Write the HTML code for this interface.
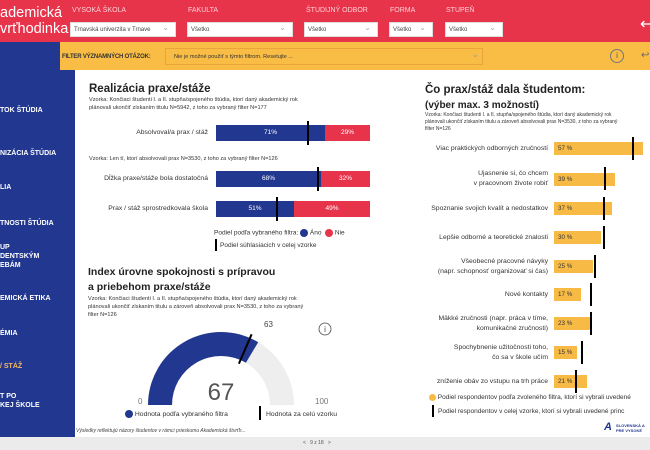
<!DOCTYPE html>
<html><head><meta charset="utf-8"><style>
*{margin:0;padding:0;box-sizing:border-box}
body{width:650px;height:450px;overflow:hidden;font-family:"Liberation Sans",sans-serif;background:#fff;position:relative}
.a{position:absolute;white-space:nowrap}
.top{left:0;top:0;width:650px;height:42px;background:#e8344b}
.sel{background:#fff;height:15px;top:22px;font-size:6px;color:#444;padding:4px 3px;border:1px solid #ddd}
.sel:after{content:"⌄";position:absolute;right:6px;top:0px;color:#aaa;font-size:8px}
.lab{top:7px;font-size:7px;color:#fbd0d6}
.nav{color:#fff;font-size:7px;font-weight:bold;left:0;line-height:9px}
.sm{font-size:5.6px;color:#333;line-height:8px}
.rl{font-size:6.8px;color:#333;text-align:right;line-height:10px}
.bar{height:13px;background:#f7bb45;font-size:6.3px;color:#333;padding:3px 4px}
.mk{width:2px;background:#000}
</style></head><body>
<div class="a top"></div>
<div class="a" style="left:0;top:5px;color:#fff;font-size:14.5px;line-height:16px">ademická<br>vrťhodinka</div>
<div class="a lab" style="left:72px">VYSOKÁ ŠKOLA</div>
<div class="a sel" style="left:70px;width:106px">Trnavská univerzita v Trnave</div>
<div class="a lab" style="left:188px">FAKULTA</div>
<div class="a sel" style="left:187px;width:106px">Všetko</div>
<div class="a lab" style="left:306px">ŠTUDIJNÝ ODBOR</div>
<div class="a sel" style="left:304px;width:74px">Všetko</div>
<div class="a lab" style="left:390px">FORMA</div>
<div class="a sel" style="left:389px;width:44px">Všetko</div>
<div class="a lab" style="left:446px">STUPEŇ</div>
<div class="a sel" style="left:445px;width:58px">Všetko</div>
<div class="a" style="left:640px;top:14px;color:#fff;font-size:16px">↩</div>
<div class="a" style="left:0;top:42px;width:60px;height:395px;background:#22378f"></div>
<div class="a" style="left:60px;top:42px;width:590px;height:28px;background:#f9bd45"></div>
<div class="a" style="left:60px;top:70px;width:15px;height:367px;background:#22378f"></div>
<div class="a" style="left:62px;top:54px;font-size:6px;font-weight:bold;color:#333;letter-spacing:-0.2px">FILTER VÝZNAMNÝCH OTÁZOK:</div>
<div class="a" style="left:165px;top:48px;width:318px;height:17px;border:1px solid #e9a53a;font-size:5.6px;padding:5px 8px;color:#333">Nie je možné použiť s týmto filtrom. Resetujte ...</div>
<div class="a" style="left:472px;top:50px;color:#999;font-size:8px">⌄</div>
<div class="a" style="left:610px;top:49px;width:14px;height:14px;border:1px solid #777;border-radius:50%;font-size:8px;text-align:center;color:#555;line-height:12px">i</div>
<div class="a" style="left:641px;top:50px;font-size:10px;color:#666">↩</div>
<div class="a nav" style="top:106px">TOK ŠTÚDIA</div>
<div class="a nav" style="top:149px">NIZÁCIA ŠTÚDIA</div>
<div class="a nav" style="top:183px">LIA</div>
<div class="a nav" style="top:219px">TNOSTI ŠTÚDIA</div>
<div class="a nav" style="top:243px">UP<br>DENTSKÝM<br>EBÁM</div>
<div class="a nav" style="top:294px">EMICKÁ ETIKA</div>
<div class="a nav" style="top:329px">ÉMIA</div>
<div class="a nav" style="top:362px;color:#f5b960">/ STÁŽ</div>
<div class="a nav" style="top:392px">T PO<br>KEJ ŠKOLE</div>
<div class="a" style="left:0;top:437px;width:650px;height:13px;background:#ebebeb"></div>
<div class="a" style="left:303px;top:440px;font-size:5px;color:#555">&lt; &nbsp; 9 z 18 &nbsp; &gt;</div>
<div class="a" style="left:76px;top:428px;font-size:5px;color:#444;font-style:italic">Výsledky reflektujú názory študentov v rámci prieskumu Akademická štvrťh...</div>

<div class="a" style="left:89px;top:83px;font-size:11.5px;font-weight:bold;color:#222">Realizácia praxe/stáže</div>
<div class="a sm" style="left:89px;top:96px">Vzorka: Končiaci študenti I. a II. stupňa/spojeného štúdia, ktorí daný akademický rok<br>plánovali ukončiť získaním titulu N=5942, z toho za vybraný filter N=177</div>
<div class="a rl" style="left:100px;top:128px;width:108px">Absolvoval/a prax / stáž</div>
<div class="a" style="left:216px;top:125px;width:109px;height:16px;background:#22378f;color:#fff;font-size:6.5px;text-align:center;padding-top:4px">71%</div>
<div class="a" style="left:325px;top:125px;width:45px;height:16px;background:#e8344b;color:#fff;font-size:6.5px;text-align:center;padding-top:4px">29%</div>
<div class="a mk" style="left:307px;top:121px;height:24px"></div>
<div class="a sm" style="left:89px;top:155px">Vzorka: Len tí, ktorí absolvovali prax N=3530, z toho za vybraný filter N=126</div>
<div class="a rl" style="left:90px;top:174px;width:118px">Dĺžka praxe/stáže bola dostatočná</div>
<div class="a" style="left:216px;top:171px;width:105px;height:16px;background:#22378f;color:#fff;font-size:6.5px;text-align:center;padding-top:4px">68%</div>
<div class="a" style="left:321px;top:171px;width:49px;height:16px;background:#e8344b;color:#fff;font-size:6.5px;text-align:center;padding-top:4px">32%</div>
<div class="a mk" style="left:317px;top:167px;height:24px"></div>
<div class="a rl" style="left:90px;top:204px;width:118px">Prax / stáž sprostredkovala škola</div>
<div class="a" style="left:216px;top:201px;width:78px;height:16px;background:#22378f;color:#fff;font-size:6.5px;text-align:center;padding-top:4px">51%</div>
<div class="a" style="left:294px;top:201px;width:76px;height:16px;background:#e8344b;color:#fff;font-size:6.5px;text-align:center;padding-top:4px">49%</div>
<div class="a mk" style="left:276px;top:197px;height:24px"></div>
<div class="a" style="left:214px;top:229px;font-size:6.5px;color:#333">Podiel podľa vybraného filtra: <span style="display:inline-block;width:8px;height:8px;border-radius:50%;background:#22378f;vertical-align:middle"></span> Áno &nbsp;<span style="display:inline-block;width:8px;height:8px;border-radius:50%;background:#e8344b;vertical-align:middle"></span> Nie</div>
<div class="a mk" style="left:215px;top:239px;height:12px"></div>
<div class="a" style="left:220px;top:242px;font-size:6.5px;color:#333">Podiel súhlasiacich v celej vzorke</div>

<div class="a" style="left:88px;top:265px;font-size:10.5px;font-weight:bold;color:#222;line-height:15px">Index úrovne spokojnosti s prípravou<br>a priebehom praxe/stáže</div>
<div class="a sm" style="left:88px;top:295px">Vzorka: Končiaci študenti I. a II. stupňa/spojeného štúdia, ktorí daný akademický rok<br>plánovali ukončiť získaním titulu a zároveň absolvovali prax N=3530, z toho za vybraný<br>filter N=126</div>
<svg class="a" style="left:0;top:0" width="650" height="450">
<path d="M148 405 A73 73 0 0 1 294 405 L270 405 A49 49 0 0 0 172 405Z" fill="#eeeeee"/>
<path d="M148 405 A73 73 0 0 1 258.2 342.2 L245.9 362.8 A49 49 0 0 0 172 405Z" fill="#22378f"/>
<line x1="238.9" y1="363.7" x2="251.6" y2="334.3" stroke="#000" stroke-width="2"/>
<text x="221" y="400" font-size="24" fill="#555" text-anchor="middle" font-family="Liberation Sans">67</text>
<text x="264" y="327" font-size="8" fill="#444" font-family="Liberation Sans">63</text>
<text x="138" y="404" font-size="8" fill="#777" font-family="Liberation Sans">0</text>
<text x="315" y="404" font-size="8" fill="#777" font-family="Liberation Sans">100</text>
<circle cx="325" cy="329" r="6" fill="none" stroke="#444" stroke-width="0.8"/>
<text x="325" y="332" font-size="8" fill="#444" text-anchor="middle" font-family="Liberation Sans">i</text>
</svg>
<div class="a" style="left:125px;top:410px;font-size:6.8px;color:#333"><span style="display:inline-block;width:8px;height:8px;border-radius:50%;background:#22378f;vertical-align:middle"></span> Hodnota podľa vybraného filtra</div>
<div class="a mk" style="left:259px;top:406px;height:14px"></div>
<div class="a" style="left:266px;top:411px;font-size:6.8px;color:#333">Hodnota za celú vzorku</div>

<div class="a" style="left:425px;top:83px;font-size:11.5px;font-weight:bold;color:#222;line-height:15px">Čo prax/stáž dala študentom:<br><span style="font-size:10px">(výber max. 3 možností)</span></div>
<div class="a sm" style="left:425px;top:112px;font-size:5px;line-height:7px">Vzorka: Končiaci študenti I. a II. stupňa/spojeného štúdia, ktorí daný akademický rok<br>plánovali ukončiť získaním titulu a zároveň absolvovali prax N=3530, z toho za vybraný<br>filter N=126</div>

<div class="a rl" style="left:400px;top:144px;width:148px">Viac praktických odborných zručností</div>
<div class="a bar" style="left:554px;top:142px;width:89px">57 %</div>
<div class="a mk" style="left:632px;top:137px;height:23px"></div>

<div class="a rl" style="left:400px;top:169px;width:148px">Ujasnenie si, čo chcem<br>v pracovnom živote robiť</div>
<div class="a bar" style="left:554px;top:173px;width:61px">39 %</div>
<div class="a mk" style="left:604px;top:167px;height:23px"></div>

<div class="a rl" style="left:400px;top:204px;width:148px">Spoznanie svojich kvalít a nedostatkov</div>
<div class="a bar" style="left:554px;top:202px;width:58px">37 %</div>
<div class="a mk" style="left:603px;top:197px;height:23px"></div>

<div class="a rl" style="left:400px;top:233px;width:148px">Lepšie odborné a teoretické znalosti</div>
<div class="a bar" style="left:554px;top:231px;width:47px">30 %</div>
<div class="a mk" style="left:603px;top:226px;height:23px"></div>

<div class="a rl" style="left:400px;top:257px;width:148px">Všeobecné pracovné návyky<br>(napr. schopnosť organizovať si čas)</div>
<div class="a bar" style="left:554px;top:260px;width:39px">25 %</div>
<div class="a mk" style="left:594px;top:255px;height:23px"></div>

<div class="a rl" style="left:400px;top:290px;width:148px">Nové kontakty</div>
<div class="a bar" style="left:554px;top:288px;width:27px">17 %</div>
<div class="a mk" style="left:590px;top:283px;height:23px"></div>

<div class="a rl" style="left:400px;top:314px;width:148px">Mäkké zručnosti (napr. práca v tíme,<br>komunikačné zručnosti)</div>
<div class="a bar" style="left:554px;top:317px;width:36px">23 %</div>
<div class="a mk" style="left:590px;top:312px;height:23px"></div>

<div class="a rl" style="left:400px;top:343px;width:148px">Spochybnenie užitočnosti toho,<br>čo sa v škole učím</div>
<div class="a bar" style="left:554px;top:346px;width:23px">15 %</div>
<div class="a mk" style="left:581px;top:341px;height:23px"></div>

<div class="a rl" style="left:400px;top:377px;width:148px">zníženie obáv zo vstupu na trh práce</div>
<div class="a bar" style="left:554px;top:375px;width:33px">21 %</div>
<div class="a mk" style="left:575px;top:370px;height:23px"></div>

<div class="a" style="left:429px;top:394px;font-size:6.5px;color:#333"><span style="display:inline-block;width:7px;height:7px;border-radius:50%;background:#f7bb45;vertical-align:middle"></span> Podiel respondentov podľa zvoleného filtra, ktorí si vybrali uvedené</div>
<div class="a mk" style="left:432px;top:405px;height:12px"></div>
<div class="a" style="left:438px;top:408px;font-size:6.5px;color:#333">Podiel respondentov v celej vzorke, ktorí si vybrali uvedené princ</div>
<div class="a" style="left:604px;top:421px;font-size:11px;font-weight:bold;color:#22378f;font-style:italic">A</div>
<div class="a" style="left:616px;top:423px;font-size:4px;font-weight:bold;color:#22378f;line-height:5px">SLOVENSKÁ A<br>PRE VYSOKÉ</div>
</body></html>
